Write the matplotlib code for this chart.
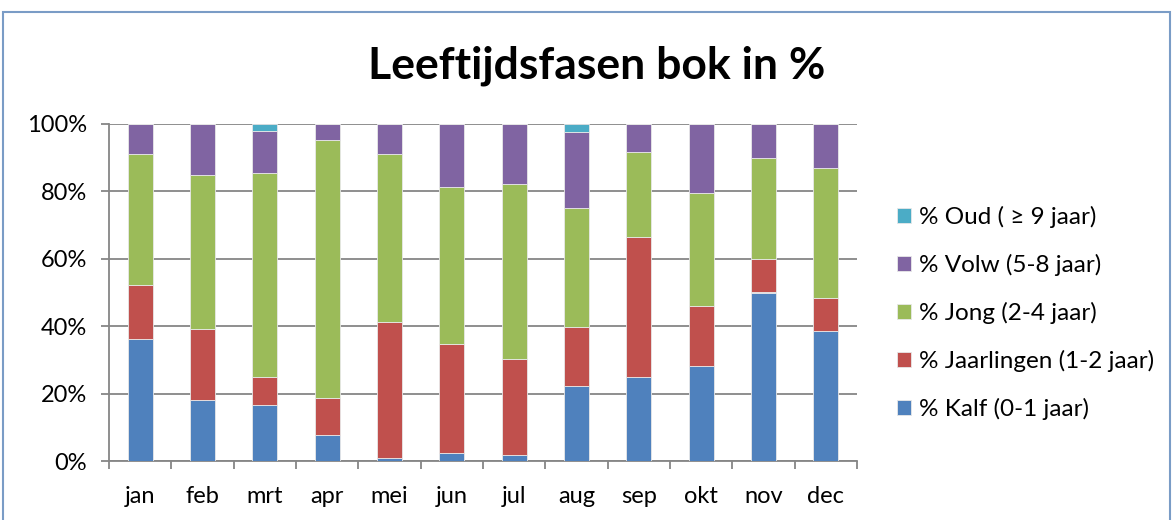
import numpy as np
import matplotlib
matplotlib.use("Agg")
import matplotlib.pyplot as plt
from matplotlib.patches import Rectangle

# segment sizes (in %)
months = ["jan", "feb", "mrt", "apr", "mei", "jun", "jul", "aug", "sep", "okt", "nov", "dec"]
kalf = [36.2, 18.2, 16.5, 7.7, 1.0, 2.3, 1.7, 22.4, 25.0, 28.1, 50.0, 38.6]
jaarlingen = [16.1, 21.1, 8.4, 11.0, 40.1, 32.5, 28.6, 17.4, 41.5, 17.9, 10.0, 9.8]
jong = [38.7, 45.6, 60.5, 76.6, 50.1, 46.5, 51.8, 35.2, 25.2, 33.5, 30.0, 38.6]
volw = [9.0, 15.1, 12.4, 4.7, 8.8, 18.7, 17.9, 22.5, 8.3, 20.5, 10.0, 13.0]
oud = [0.0, 0.0, 2.2, 0.0, 0.0, 0.0, 0.0, 2.5, 0.0, 0.0, 0.0, 0.0]

series = [
    ("% Kalf (0-1 jaar)", kalf, "#4F81BD"),
    ("% Jaarlingen (1-2 jaar)", jaarlingen, "#C0504D"),
    ("% Jong (2-4 jaar)", jong, "#9BBB59"),
    ("% Volw (5-8 jaar)", volw, "#8064A2"),
    ("% Oud ( \u2265 9 jaar)", oud, "#4BACC6"),
]

plt.rcParams['font.family'] = ['Lato', 'DejaVu Sans']

fig = plt.figure(figsize=(11.76, 5.2), dpi=100)
ax = fig.add_axes([109/1176, 1 - 461/520, 748/1176, 337/520])

x = np.arange(len(months))
bottom = np.zeros(len(months))
handles = []
for name, vals, col in series:
    vals = np.array(vals)
    b = ax.bar(x, vals, 0.4, bottom=bottom, color=col, edgecolor="#e8e8e8",
               linewidth=0.6, label=name, zorder=3)
    handles.append(b)
    bottom += vals

ax.set_xlim(-0.5, 11.5)
ax.set_ylim(0, 100)
ax.set_yticks(np.arange(0, 101, 20))
ax.set_yticklabels([f"{v}%" for v in range(0, 101, 20)], fontsize=17)
ax.yaxis.grid(True, color="#868686", linewidth=1.3, zorder=0)
ax.set_xticks(np.arange(-0.5, 12, 1))
ax.set_xticklabels([])
ax.set_xticks(x, minor=True)
ax.set_xticklabels(months, minor=True, fontsize=17)
ax.tick_params(axis="x", which="minor", length=0, pad=18)
ax.tick_params(axis="x", which="major", length=6, color="#868686", width=1.3)
ax.tick_params(axis="y", length=6, color="#868686", width=1.3, pad=10)
for s in ["top", "right"]:
    ax.spines[s].set_visible(False)
for s in ["left", "bottom"]:
    ax.spines[s].set_color("#868686")
    ax.spines[s].set_linewidth(1.3)

fig.text(597/1176, 1 - 66/520, "Leeftijdsfasen bok in %", ha="center", va="center",
         fontsize=32, fontweight="bold")

leg = fig.legend(handles[::-1], [h.get_label() for h in handles[::-1]],
                 loc="upper left", bbox_to_anchor=(887/1176, 1 - 196/520),
                 frameon=False, fontsize=17.5, handlelength=0.6, handleheight=0.6,
                 handletextpad=0.3, labelspacing=1.07, borderaxespad=0)

fig.patches.append(Rectangle((3/1176, -0.02), 1167/1176, 1 - 12/520 + 0.02,
                             transform=fig.transFigure, fill=False,
                             edgecolor="#7A9CC6", linewidth=1.5))

fig.savefig("out.png", dpi=100)
